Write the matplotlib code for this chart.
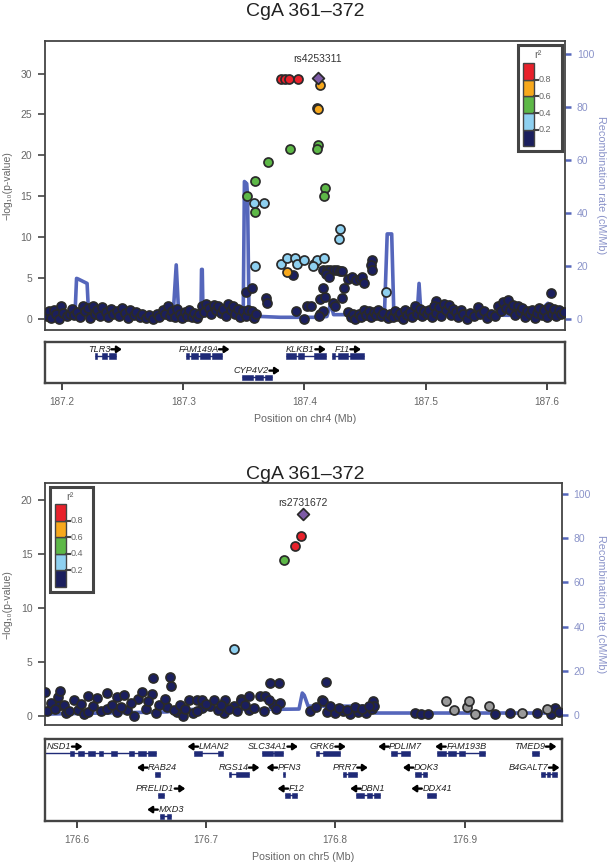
import matplotlib
matplotlib.use('Agg')
import matplotlib.pyplot as plt
from matplotlib.patches import Rectangle

plt.rcParams['font.family'] = ['Liberation Sans', 'DejaVu Sans']

# ---------------- data ----------------
title_text = 'CgA 361–372'
r2_colors = ['#1B1F5E', '#8ED0F0', '#5DB847', '#F7A81C', '#E8212B']
r2_ticks = [0.2, 0.4, 0.6, 0.8]
missing_color = '#9A9A9A'
lead_color = '#7D5BA6'

# ---- panel 1 : chr4 ----
p1_lead_name = 'rs4253311'
p1_lead = [(187.4111, 29.5)]
p1_red = [(187.3806, 29.3), (187.3841, 29.3), (187.3873, 29.3), (187.3944, 29.3)]
p1_orange = [(187.4127, 28.6), (187.4104, 25.8), (187.4110, 25.7), (187.3854, 5.7)]
p1_green = [(187.3880, 20.8), (187.3700, 19.2), (187.3590, 16.9), (187.3529, 15.0),
            (187.3590, 13.1), (187.4111, 21.3), (187.4104, 20.8), (187.4169, 16.0),
            (187.4159, 15.0)]
p1_lblue = [(187.3584, 14.1), (187.3667, 14.1), (187.3590, 6.5), (187.4297, 11.0),
            (187.4287, 9.7), (187.4676, 3.3), (187.3809, 6.7), (187.3857, 7.4),
            (187.3921, 7.4), (187.3937, 6.7), (187.3992, 7.2), (187.4082, 6.7),
            (187.4104, 7.2), (187.4162, 7.4), (187.4072, 6.5)]
p1_navy = [
    (187.3902, 5.3), (187.4153, 5.9), (187.4185, 6.0), (187.4210, 6.0), (187.4243, 6.0),
    (187.4265, 5.9), (187.4297, 5.8), (187.4178, 5.4), (187.4201, 5.1), (187.4313, 5.8),
    (187.4361, 4.9), (187.4394, 5.1), (187.4426, 4.7), (187.4458, 4.8), (187.4474, 5.1),
    (187.4490, 4.4), (187.4554, 7.2), (187.4548, 6.6), (187.4561, 6.0), (187.4326, 3.8),
    (187.4313, 2.5), (187.4153, 3.7), (187.4127, 2.4), (187.4169, 2.7), (187.4239, 1.9),
    (187.4255, 1.6), (187.3513, 3.2), (187.3568, 3.8), (187.3684, 2.5), (187.3690, 1.9),
    (187.3934, 0.9), (187.3992, 0.0), (187.4024, 1.5), (187.4056, 1.5), (187.6032, 3.1),
    (187.5084, 2.2), (187.4130, 0.6), (187.4150, 0.9),
    (187.187, 0.3), (187.189, 0.9), (187.191, 0.1), (187.193, 1.1), (187.195, 0.5),
    (187.197, 0.0), (187.199, 1.5), (187.201, 0.7), (187.204, 0.3), (187.206, 0.6),
    (187.208, 1.2), (187.210, 0.4), (187.212, 0.8), (187.215, 0.2), (187.217, 1.6),
    (187.219, 0.9), (187.221, 1.3), (187.223, 0.1), (187.225, 1.6), (187.227, 0.6),
    (187.229, 1.0), (187.231, 0.3), (187.233, 1.4), (187.236, 0.8), (187.238, 0.2),
    (187.240, 1.2), (187.242, 0.5), (187.245, 0.9), (187.247, 0.3), (187.249, 1.3),
    (187.252, 0.7), (187.254, 0.1), (187.256, 1.0), (187.259, 0.4), (187.261, 0.8),
    (187.264, 0.2), (187.266, 0.6), (187.269, 0.1), (187.272, 0.4), (187.275, 0.0),
    (187.278, 0.5), (187.280, 0.2), (187.283, 1.1), (187.285, 0.5), (187.287, 1.5),
    (187.289, 0.3), (187.291, 0.9), (187.293, 0.2), (187.295, 1.2), (187.297, 0.6),
    (187.299, 0.1), (187.301, 0.8), (187.303, 0.3), (187.305, 1.0), (187.307, 0.2),
    (187.309, 0.7), (187.311, 0.1), (187.313, 0.5), (187.315, 1.6), (187.317, 0.8),
    (187.319, 1.8), (187.321, 1.3), (187.323, 0.6), (187.325, 1.7), (187.327, 1.1),
    (187.329, 1.6), (187.331, 0.7), (187.333, 1.2), (187.335, 0.3), (187.337, 1.8),
    (187.339, 1.0), (187.341, 1.5), (187.343, 0.5), (187.345, 1.2), (187.347, 0.2),
    (187.349, 0.9), (187.352, 0.3), (187.353, 1.0), (187.357, 0.9), (187.358, 0.1),
    (187.360, 0.5), (187.412, 0.3), (187.436, 0.8), (187.438, 0.2), (187.440, 0.5),
    (187.442, 0.0), (187.445, 0.6), (187.447, 0.2), (187.449, 1.0), (187.451, 0.4),
    (187.453, 0.9), (187.455, 0.2), (187.457, 0.8), (187.459, 0.4), (187.461, 1.1),
    (187.463, 0.3), (187.465, 0.7), (187.469, 0.1), (187.471, 0.6), (187.473, 0.2),
    (187.475, 0.9), (187.477, 0.3), (187.479, 0.7), (187.481, 0.0), (187.483, 1.1),
    (187.485, 0.4), (187.487, 0.8), (187.489, 0.2), (187.491, 1.5), (187.493, 0.6),
    (187.495, 1.2), (187.497, 0.3), (187.499, 0.9), (187.501, 0.5), (187.503, 1.0),
    (187.505, 0.2), (187.507, 1.6), (187.509, 0.7), (187.511, 1.4), (187.513, 0.3),
    (187.515, 1.8), (187.517, 1.0), (187.519, 1.7), (187.521, 0.4), (187.523, 1.2),
    (187.525, 0.8), (187.527, 0.2), (187.529, 1.1), (187.531, 0.5), (187.534, 0.0),
    (187.537, 0.7), (187.540, 0.3), (187.543, 1.4), (187.545, 0.6), (187.548, 0.9),
    (187.551, 0.1), (187.554, 0.5), (187.557, 0.3), (187.560, 1.6), (187.562, 0.9),
    (187.564, 2.0), (187.566, 1.3), (187.568, 2.3), (187.570, 1.0), (187.572, 1.7),
    (187.574, 0.4), (187.576, 1.5), (187.578, 0.8), (187.580, 1.3), (187.582, 0.2),
    (187.584, 0.9), (187.586, 0.5), (187.588, 1.0), (187.590, 0.1), (187.592, 0.7),
    (187.594, 1.3), (187.596, 0.4), (187.598, 1.1), (187.600, 0.2), (187.602, 1.4),
    (187.604, 0.6), (187.606, 1.2), (187.608, 0.3), (187.610, 1.0), (187.612, 0.5),
    (187.614, 0.8)]
p1_gray = []

p1_recomb_pos = [187.1855, 187.2000, 187.2105, 187.2118, 187.2130, 187.2205, 187.2218,
                 187.2900, 187.2915, 187.2941, 187.2962, 187.3145, 187.3150, 187.3156,
                 187.3162, 187.3350, 187.3420, 187.3494, 187.3504, 187.3523, 187.3530,
                 187.3542, 187.3800, 187.4100, 187.4185, 187.4217, 187.4240, 187.4660,
                 187.4683, 187.4720, 187.4738, 187.4930, 187.4946, 187.4962, 187.5900,
                 187.6010, 187.6040, 187.6151]
p1_recomb_rate = [1.3, 1.3, 1.5, 15.2, 15.0, 13.3, 1.4,
                  1.1, 1.1, 20.3, 1.2, 1.2, 18.6, 18.6,
                  2.0, 2.0, 0.8, 0.8, 51.8, 51.0, 46.0,
                  1.0, 0.5, 0.5, 0.8, 5.8, 1.5, 1.5,
                  32.0, 32.0, 1.6, 1.5, 13.3, 1.5, 1.2,
                  5.8, 1.2, 1.2]

p1_genes = [('TLR3', 187.2267, 187.2440, '+', 0),
            ('FAM149A', 187.3022, 187.3317, '+', 0),
            ('KLKB1', 187.3847, 187.4178, '+', 0),
            ('F11', 187.4226, 187.4490, '+', 0),
            ('CYP4V2', 187.3484, 187.3729, '+', 1)]
p1_exons = {'TLR3': [(187.2267, 187.2290), (187.2328, 187.2370), (187.2386, 187.2440)],
            'FAM149A': [(187.3022, 187.3044), (187.3060, 187.3124), (187.3141, 187.3221),
                        (187.3237, 187.3317)],
            'KLKB1': [(187.3847, 187.3928), (187.3944, 187.3992), (187.4082, 187.4178)],
            'F11': [(187.4226, 187.4255), (187.4274, 187.4361), (187.4377, 187.4490)],
            'CYP4V2': [(187.3484, 187.3574), (187.3590, 187.3655), (187.3671, 187.3729)]}
p1_xticks = [187.2, 187.3, 187.4, 187.5, 187.6]
p1_yticks = [0, 5, 10, 15, 20, 25, 30]
p1_xlabel = 'Position on chr4 (Mb)'

# ---- panel 2 : chr5 ----
p2_lead_name = 'rs2731672'
p2_lead = [(176.7750, 18.7)]
p2_red = [(176.7738, 16.65), (176.7690, 15.7)]
p2_orange = []
p2_green = [(176.7605, 14.4)]
p2_lblue = [(176.7220, 6.2)]
p2_navy = [
    (176.5753, 2.2), (176.5768, 0.4), (176.5858, 1.7), (176.5858, 0.9), (176.5873, 2.3),
    (176.5919, 0.2), (176.5979, 1.4), (176.6009, 0.5), (176.6054, 0.1), (176.6084, 0.3),
    (176.6087, 1.8), (176.6190, 0.4), (176.6235, 2.1), (176.6235, 0.6), (176.6310, 1.7),
    (176.6310, 0.3), (176.6364, 1.9), (176.6386, 0.5), (176.6446, 0.0), (176.6476, 1.5),
    (176.6506, 2.2), (176.6536, 0.6), (176.6581, 2.0), (176.6590, 3.5), (176.6611, 0.2),
    (176.6702, 0.8), (176.6723, 3.55), (176.6732, 2.7), (176.6777, 0.3), (176.6822, 0.0),
    (176.6870, 1.4), (176.6898, 0.2), (176.6928, 1.4), (176.6973, 1.4), (176.6973, 0.7),
    (176.7033, 0.9), (176.7063, 1.4), (176.7139, 0.2), (176.7148, 1.4), (176.7214, 0.9),
    (176.7274, 1.5), (176.7274, 1.3), (176.7334, 1.8), (176.7334, 0.5), (176.7419, 1.8),
    (176.7455, 1.8), (176.7497, 3.0), (176.7515, 1.1), (176.7563, 3.0), (176.7575, 1.2),
    (176.7801, 0.4), (176.7901, 1.4), (176.7907, 1.3), (176.7931, 3.1), (176.7937, 0.3),
    (176.7997, 0.2), (176.8057, 0.4), (176.8117, 0.1), (176.8178, 0.3), (176.8238, 0.2),
    (176.8283, 0.6), (176.8292, 1.3), (176.8298, 0.9), (176.8614, 0.2), (176.8660, 0.1),
    (176.8720, 0.1), (176.9232, 0.1), (176.9352, 0.2), (176.9563, 0.2), (176.9669, 0.1),
    (176.9699, 0.7), (176.9729, 0.3),
    (176.5800, 1.2), (176.5830, 0.6), (176.5900, 1.0), (176.5940, 0.4), (176.6030, 1.1),
    (176.6130, 0.9), (176.6160, 1.6), (176.6270, 1.0), (176.6340, 0.8), (176.6420, 1.2),
    (176.6550, 1.3), (176.6640, 1.0), (176.6680, 1.5), (176.6750, 0.5), (176.6800, 1.0),
    (176.6840, 0.6), (176.6930, 0.4), (176.7000, 1.1), (176.7090, 0.5), (176.7120, 1.0),
    (176.7180, 0.6), (176.7240, 0.4), (176.7300, 1.0), (176.7370, 0.7), (176.7450, 0.4),
    (176.7490, 1.4), (176.7540, 0.6), (176.7850, 0.8), (176.7960, 0.9), (176.8030, 0.7),
    (176.8090, 0.5), (176.8150, 0.8), (176.8210, 0.6), (176.8260, 0.9)]
p2_gray = [(176.8855, 1.3), (176.8916, 0.5), (176.9021, 0.8), (176.9036, 1.3),
           (176.9081, 0.1), (176.9187, 0.9), (176.9443, 0.2), (176.9635, 0.6)]

p2_recomb_pos = [176.5755, 176.6000, 176.6400, 176.6700, 176.6800, 176.7520, 176.7555,
                 176.7585, 176.7720, 176.7745, 176.7760, 176.7790, 176.8290, 176.8310,
                 176.9750]
p2_recomb_rate = [0.5, 0.8, 1.2, 1.5, 2.6, 2.7, 5.3,
                  2.7, 2.8, 10.0, 9.0, 4.1, 4.1, 1.0,
                  1.0]

p2_genes = [('NSD1', 176.5000, 176.6611, '+', 0),
            ('LMAN2', 176.6907, 176.7130, '-', 0),
            ('SLC34A1', 176.7434, 176.7599, '+', 0),
            ('GRK6', 176.7852, 176.8033, '+', 0),
            ('PDLIM7', 176.8428, 176.8578, '-', 0),
            ('FAM193B', 176.8786, 176.9157, '-', 0),
            ('TMED9', 176.9518, 176.9578, '+', 0),
            ('RAB24', 176.6602, 176.6642, '-', 1),
            ('RGS14', 176.7175, 176.7334, '+', 1),
            ('PFN3', 176.7593, 176.7611, '-', 1),
            ('PRR7', 176.8057, 176.8172, '+', 1),
            ('DOK3', 176.8614, 176.8711, '-', 1),
            ('B4GALT7', 176.9593, 176.9714, '+', 1),
            ('PRELID1', 176.6627, 176.6672, '+', 2),
            ('F12', 176.7611, 176.7705, '-', 2),
            ('DBN1', 176.8163, 176.8343, '-', 2),
            ('DDX41', 176.8711, 176.8780, '-', 2),
            ('MXD3', 176.6648, 176.6726, '-', 3)]
p2_exons = {'NSD1': [(176.5949, 176.5979), (176.6009, 176.6054), (176.6084, 176.6145),
                     (176.6175, 176.6205), (176.6265, 176.6310), (176.6401, 176.6446),
                     (176.6476, 176.6536), (176.6551, 176.6611)],
            'LMAN2': [(176.6907, 176.6973), (176.7093, 176.7130)],
            'SLC34A1': [(176.7434, 176.7515), (176.7530, 176.7599)],
            'GRK6': [(176.7852, 176.7876), (176.7907, 176.8033)],
            'PDLIM7': [(176.8428, 176.8479), (176.8509, 176.8578)],
            'FAM193B': [(176.8786, 176.8855), (176.8870, 176.8931), (176.8961, 176.9006),
                        (176.9112, 176.9157)],
            'TMED9': [(176.9518, 176.9578)],
            'RAB24': [(176.6602, 176.6642)],
            'RGS14': [(176.7175, 176.7190), (176.7235, 176.7334)],
            'PFN3': [(176.7593, 176.7611)],
            'PRR7': [(176.8057, 176.8081), (176.8102, 176.8172)],
            'DOK3': [(176.8614, 176.8660), (176.8675, 176.8711)],
            'B4GALT7': [(176.9593, 176.9623), (176.9634, 176.9664), (176.9680, 176.9714)],
            'PRELID1': [(176.6627, 176.6672)],
            'F12': [(176.7611, 176.7651), (176.7666, 176.7705)],
            'DBN1': [(176.8163, 176.8223), (176.8244, 176.8283), (176.8298, 176.8343)],
            'DDX41': [(176.8711, 176.8780)],
            'MXD3': [(176.6648, 176.6678), (176.6696, 176.6726)]}
p2_xticks = [176.6, 176.7, 176.8, 176.9]
p2_yticks = [0, 5, 10, 15, 20]
p2_xlabel = 'Position on chr5 (Mb)'
recomb_ticks = [0, 20, 40, 60, 80, 100]

# ---------------- style ----------------
W, H = 610, 863
FRAME = '#444444'
TXT = '#666666'
REC = '#5566BB'
REC_TXT = '#8A93C9'
GENE = '#1F2A77'

fig = plt.figure(figsize=(W / 100, H / 100), dpi=100)


def fr(l, t, r, b):
    return [l / W, 1 - b / H, (r - l) / W, (b - t) / H]


def scatter(ax, pts, color, z, marker='o', s=42):
    if not pts:
        return
    xs, ys = zip(*pts)
    ax.scatter(xs, ys, s=s, c=color, marker=marker, edgecolors='#2A2A2A',
               linewidths=1.25, zorder=z, clip_on=True)


def main_panel(box, xlim, ylim, rylim, yticks, rpos, rrate, groups, lead, lead_name,
               lead_label_y):
    ax = fig.add_axes(fr(*box))
    ax2 = ax.twinx()
    ax2.plot(rpos, rrate, color=REC, lw=2.6, solid_joinstyle='round', zorder=1)
    ax2.set_ylim(*rylim)
    ax2.set_yticks(recomb_ticks)
    ax2.tick_params(axis='y', color=REC, labelcolor=REC_TXT, width=1.8, length=4.5,
                    labelsize=7.5, pad=4)
    for sp in ax2.spines.values():
        sp.set_visible(False)
    ax.set_zorder(ax2.get_zorder() + 1)
    ax.patch.set_visible(False)
    navy, gray, lblue, green, orange, red = groups
    scatter(ax, navy, r2_colors[0], 3)
    scatter(ax, gray, missing_color, 3)
    scatter(ax, lblue, r2_colors[1], 4)
    scatter(ax, green, r2_colors[2], 5)
    scatter(ax, orange, r2_colors[3], 6)
    scatter(ax, red, r2_colors[4], 7)
    scatter(ax, lead, lead_color, 8, marker='D', s=36)
    ax.text(lead[0][0], lead_label_y, lead_name, ha='center', va='center', fontsize=7.5,
            color='#333333')
    ax.set_xlim(*xlim)
    ax.set_ylim(*ylim)
    ax.set_yticks(yticks)
    ax.set_xticks([])
    ax.tick_params(axis='y', color=FRAME, labelcolor=TXT, width=1.2, length=5,
                   labelsize=7.5, pad=4)
    for sp in ax.spines.values():
        sp.set_color(FRAME)
        sp.set_linewidth(1.3)
    l, t, r, b = box
    fig.text(8 / W, 1 - (t + b) / 2 / H, '−log₁₀(p-value)', rotation=90, ha='center',
             va='center', fontsize=7.5, color=TXT)
    fig.text(601 / W, 1 - (t + b) / 2 / H, 'Recombination rate (cM/Mb)', rotation=270,
             ha='center', va='center', fontsize=7.8, color=REC_TXT)
    return ax


def gene_panel(box, xlim, xticks, genes, exons, row_gap, xlabel, xlabel_y):
    l, t, r, b = box
    ax = fig.add_axes(fr(*box))
    ax.set_xlim(*xlim)
    ax.set_ylim(b - t, 0)
    ax.set_yticks([])
    ax.set_xticks(xticks)
    ax.set_xticklabels([f'{v:.1f}' for v in xticks])
    ax.tick_params(axis='x', color=FRAME, labelcolor=TXT, width=1.4, length=5,
                   labelsize=7.2, pad=5)
    for sp in ax.spines.values():
        sp.set_color(FRAME)
        sp.set_linewidth(1.7)
    fig.text((l + r) / 2 / W, 1 - xlabel_y / H, xlabel, ha='center', va='center',
             fontsize=7.7, color=TXT)
    fig.canvas.draw()
    rend = fig.canvas.get_renderer()
    x0, x1 = xlim
    mpp = (x1 - x0) / ax.bbox.width
    arrow_px, gap_px, pad_px = 10.5, 0.5, 2.0
    for name, start, end, strand, row in genes:
        gy = 14.0 + row * row_gap
        ly = 7.3 + row * row_gap
        ax.plot([start, end], [gy, gy], color=GENE, lw=1.0, solid_capstyle='butt', zorder=2)
        for es, ee in exons[name]:
            ax.add_patch(Rectangle((es, gy - 2.6), ee - es, 5.2, facecolor=GENE,
                                   edgecolor=GENE, lw=0.4, zorder=3))
        txt = ax.text(start, ly, name, fontsize=6.6, style='italic', ha='left',
                      va='center', color='#222222', zorder=4)
        wpx = txt.get_window_extent(rend).width
        total = (wpx + gap_px + arrow_px) * mpp
        left = (start + end) / 2 - total / 2
        left = max(left, x0 + pad_px * mpp)
        left = min(left, x1 - pad_px * mpp - total)
        if strand == '+':
            txt.set_x(left)
            a_from = left + (wpx + gap_px) * mpp
            a_to = a_from + arrow_px * mpp
        else:
            a_to = left
            a_from = left + arrow_px * mpp
            txt.set_x(left + (arrow_px + gap_px) * mpp)
        ax.annotate('', xy=(a_to, ly), xytext=(a_from, ly),
                    arrowprops=dict(arrowstyle='-|>,head_length=0.55,head_width=0.38',
                                    color='black', lw=1.7, shrinkA=0, shrinkB=0,
                                    mutation_scale=5), zorder=4)
    return ax


def legend(box, cb_top, cb_bottom_pad):
    l, t, r, b = box
    w, h = r - l, b - t
    lax = fig.add_axes(fr(*box))
    lax.set_xlim(0, w)
    lax.set_ylim(h, 0)
    lax.axis('off')
    lax.set_zorder(20)
    lax.add_patch(Rectangle((0, 0), w, h, facecolor='white', edgecolor=FRAME, lw=2.2,
                            clip_on=False))
    cb_l, cb_r = 5.5, 16.5
    cb_b = h - cb_bottom_pad
    seg = (cb_b - cb_top) / 5
    for i, c in enumerate(r2_colors):
        lax.add_patch(Rectangle((cb_l, cb_b - (i + 1) * seg), cb_r - cb_l, seg,
                                facecolor=c, edgecolor=FRAME, lw=1.0))
    for j, v in enumerate(r2_ticks):
        yy = cb_b - (j + 1) * seg
        lax.plot([cb_r, cb_r + 3.5], [yy, yy], color=FRAME, lw=1.5)
        lax.text(cb_r + 4.2, yy, f'{v:.1f}', fontsize=6.5, va='center', ha='left', color=TXT)
    lax.text(20.5, 10, 'r²', fontsize=8, ha='center', va='center', color=TXT)


# ---------------- panel 1 ----------------
fig.text(0.5, 1 - 12 / H, title_text, ha='center', va='center', fontsize=14, color='#222222')
main_panel((44.7, 41, 565, 330), (187.1855, 187.6151), (-1.4, 34.0), (-4.3, 104.9),
           p1_yticks, p1_recomb_pos, p1_recomb_rate,
           (p1_navy, p1_gray, p1_lblue, p1_green, p1_orange, p1_red),
           p1_lead, p1_lead_name, 31.8)
legend((517.5, 45, 562, 151), 18.3, 4.7)
gene_panel((44.7, 342, 565, 382.7), (187.1855, 187.6151), p1_xticks, p1_genes, p1_exons,
           21.3, p1_xlabel, 419)

# ---------------- panel 2 ----------------
fig.text(0.5, 1 - 474 / H, title_text, ha='center', va='center', fontsize=14, color='#222222')
main_panel((45, 483.3, 561.5, 725), (176.5755, 176.975), (-0.88, 21.54), (-4.4, 104.6),
           p2_yticks, p2_recomb_pos, p2_recomb_rate,
           (p2_navy, p2_gray, p2_lblue, p2_green, p2_orange, p2_red),
           p2_lead, p2_lead_name, 19.7)
legend((49.8, 487.3, 93.4, 591.7), 17.0, 5.0)
gene_panel((45, 739.3, 561.5, 820.7), (176.5755, 176.975), p2_xticks, p2_genes, p2_exons,
           21.0, p2_xlabel, 857)

fig.savefig('out.png', dpi=100)
